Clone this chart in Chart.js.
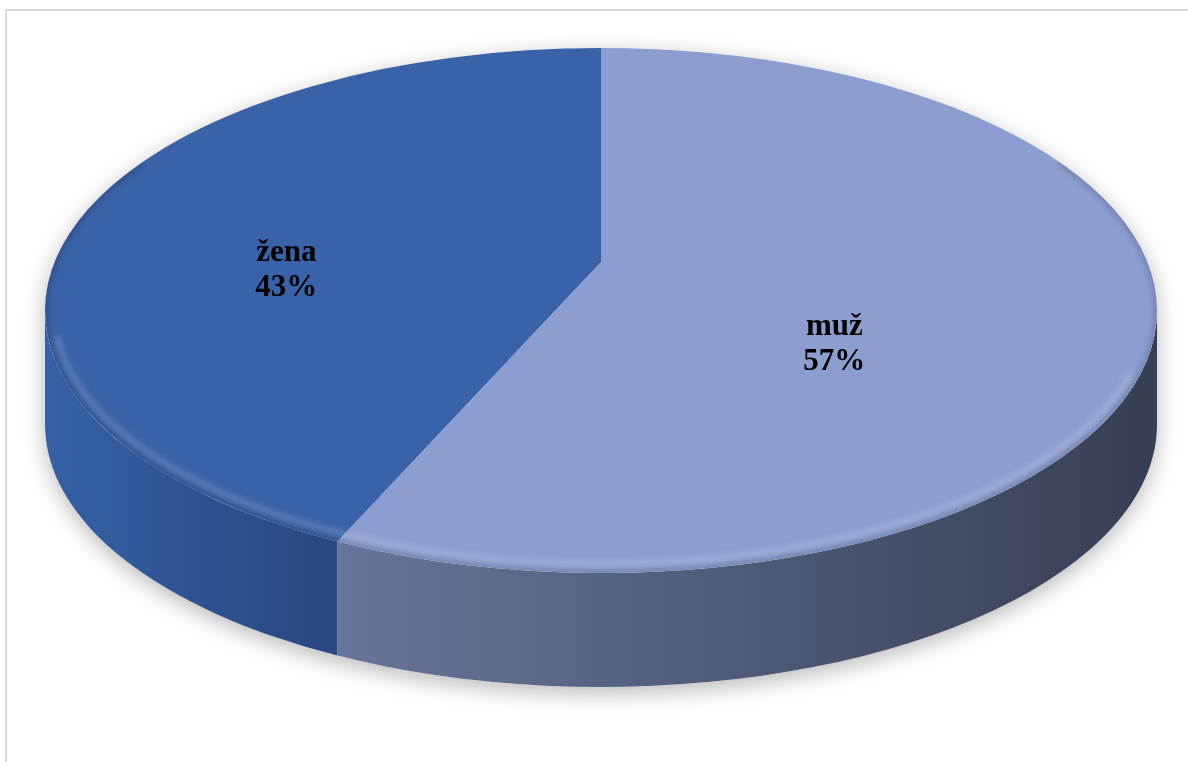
<!DOCTYPE html>
<html lang="cs">
<head>
    <meta charset="UTF-8">
    <title>Pohlaví respondentů</title>
    <script src="https://cdn.jsdelivr.net/npm/chart.js"></script>
    <style>
        body {
            margin: 0;
            padding: 0;
            background-color: #ffffff;
            overflow: hidden;
        }
        .frame {
            position: absolute;
            left: 5px;
            top: 9px;
            width: 1300px;
            height: 900px;
            border: 2px solid #d9d9d9;
        }
        canvas {
            position: absolute;
            left: 0;
            top: 0;
        }
    </style>
</head>
<body>
    <div class="frame"></div>
    <canvas id="genderChart" width="1188" height="762"></canvas>

    <script>
        const categories = ['muž', 'žena'];
        const shares = [57, 43];
        const topColors = ['#8C9ED0', '#3A62A8'];
        const sideColors = [['#67759A', '#363E53'], ['#3560A6', '#284680']];

        // outline of the top face, height of the rim, perspective tilt of the angles
        // and where the pie centre sits on the top face
        const disc = { cx: 601, cy: 310.5, rx: 556, ry: 262.5, depth: 114, tilt: -0.12, apexY: 262 };

        // label anchor: fraction of the radius along the slice middle, plus a vertical nudge
        const labelPlacement = [{ r: 0.43, dy: 8 }, { r: 0.58, dy: -8 }];

        const total = shares.reduce((a, b) => a + b, 0);

        // angle of the round pie -> parametric angle on the tilted ellipse
        function project(a) {
            const t = disc.tilt;
            const x = Math.cos(a), y = Math.sin(a);
            const d = 1 + t * y;
            return Math.atan2((y + t) / d, x * Math.sqrt(1 - t * t) / d);
        }

        function sliceAngles(arc) {
            let p0 = project(arc.startAngle);
            let p1 = project(arc.endAngle);
            while (p1 <= p0) p1 += Math.PI * 2;
            return [p0, p1];
        }

        function discPath(ctx) {
            ctx.beginPath();
            ctx.ellipse(disc.cx, disc.cy, disc.rx, disc.ry, 0, Math.PI, 0);
            ctx.ellipse(disc.cx, disc.cy + disc.depth, disc.rx, disc.ry, 0, 0, Math.PI);
            ctx.closePath();
        }

        const pie3d = {
            id: 'pie3d',
            beforeDatasetDraw() {
                // the slices are drawn below as a tilted disc
                return false;
            },
            afterDatasetsDraw(chart) {
                const ctx = chart.ctx;
                const arcs = chart.getDatasetMeta(0).data;

                // soft shadow under the whole disc
                ctx.save();
                ctx.shadowColor = 'rgba(0, 0, 0, 0.28)';
                ctx.shadowBlur = 22;
                ctx.shadowOffsetY = 6;
                ctx.fillStyle = '#ffffff';
                discPath(ctx);
                ctx.fill();
                ctx.restore();

                arcs.forEach((arc, i) => {
                    const [p0, p1] = sliceAngles(arc);

                    // front rim (parametric angles 0..PI face the viewer)
                    const ranges = [[p0, p1], [p0 - Math.PI * 2, p1 - Math.PI * 2]];
                    ranges.forEach(([s, e]) => {
                        const a0 = Math.max(s, 0);
                        const a1 = Math.min(e, Math.PI);
                        if (a1 <= a0) return;
                        const xa = disc.cx + disc.rx * Math.cos(a0);
                        const xb = disc.cx + disc.rx * Math.cos(a1);
                        const grad = ctx.createLinearGradient(Math.min(xa, xb), 0, Math.max(xa, xb), 0);
                        grad.addColorStop(0, sideColors[i][0]);
                        grad.addColorStop(1, sideColors[i][1]);
                        ctx.beginPath();
                        ctx.ellipse(disc.cx, disc.cy, disc.rx, disc.ry, 0, a0, a1);
                        ctx.ellipse(disc.cx, disc.cy + disc.depth, disc.rx, disc.ry, 0, a1, a0, true);
                        ctx.closePath();
                        ctx.fillStyle = grad;
                        ctx.fill();
                    });

                    // top face
                    ctx.beginPath();
                    ctx.moveTo(disc.cx, disc.apexY);
                    ctx.ellipse(disc.cx, disc.cy, disc.rx, disc.ry, 0, p0, p1);
                    ctx.closePath();
                    ctx.fillStyle = arc.options.backgroundColor;
                    ctx.fill();
                });

                // bevel along the edge of the top face
                ctx.save();
                ctx.beginPath();
                ctx.ellipse(disc.cx, disc.cy, disc.rx, disc.ry, 0, 0, Math.PI * 2);
                ctx.clip();
                ctx.filter = 'blur(3px)';
                ctx.lineWidth = 5;
                ctx.strokeStyle = 'rgba(0, 0, 0, 0.22)';
                ctx.beginPath();
                ctx.ellipse(disc.cx, disc.cy, disc.rx, disc.ry, 0, -0.6, Math.PI + 0.6);
                ctx.stroke();
                ctx.lineWidth = 4;
                ctx.strokeStyle = 'rgba(255, 255, 255, 0.28)';
                ctx.beginPath();
                ctx.ellipse(disc.cx, disc.cy, disc.rx - 9, disc.ry - 9, 0, 0.25, Math.PI - 0.1);
                ctx.stroke();
                ctx.restore();

                // slice labels
                ctx.save();
                ctx.font = 'bold 31px "Liberation Serif", "Times New Roman", serif';
                ctx.fillStyle = '#000000';
                ctx.textAlign = 'center';
                ctx.textBaseline = 'alphabetic';
                arcs.forEach((arc, i) => {
                    const mid = (arc.startAngle + arc.endAngle) / 2;
                    const p = labelPlacement[i];
                    const x = disc.cx + disc.rx * p.r * Math.cos(mid);
                    const y = disc.cy + disc.ry * p.r * Math.sin(mid) + p.dy;
                    const pct = Math.round(shares[i] / total * 100) + '%';
                    ctx.fillText(categories[i], x, y - 8);
                    ctx.fillText(pct, x, y + 27);
                });
                ctx.restore();
            }
        };

        const ctx = document.getElementById('genderChart').getContext('2d');
        const genderChart = new Chart(ctx, {
            type: 'pie',
            data: {
                labels: categories,
                datasets: [{
                    data: shares,
                    backgroundColor: topColors,
                    borderWidth: 0
                }]
            },
            options: {
                responsive: false,
                animation: false,
                layout: { padding: 0 },
                plugins: {
                    legend: { display: false },
                    tooltip: { enabled: false }
                }
            },
            plugins: [pie3d]
        });
    </script>
</body>
</html>
